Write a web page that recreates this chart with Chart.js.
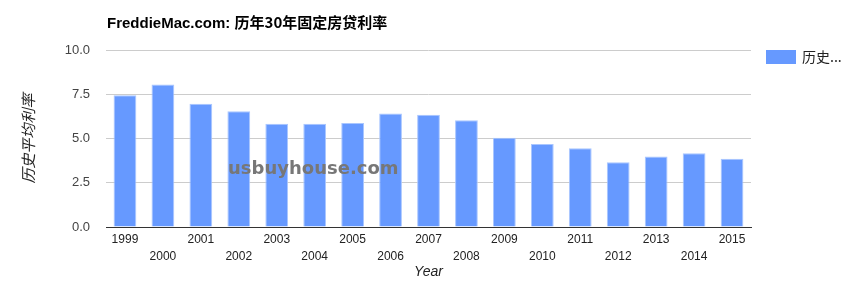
<!DOCTYPE html>
<html>
<head>
<meta charset="utf-8">
<script src="https://cdn.jsdelivr.net/npm/chart.js@4"></script>
<style>
  html, body { margin: 0; padding: 0; background: #fff; }
  #wrap { position: relative; width: 854px; height: 284px; }
</style>
</head>
<body>
<div id="wrap"><canvas id="rateChart" width="854" height="284"></canvas></div>
<script>
const years = ["1999", "2000", "2001", "2002", "2003", "2004", "2005", "2006", "2007",
               "2008", "2009", "2010", "2011", "2012", "2013", "2014", "2015"];
const avgRates = [7.44, 8.05, 6.97, 6.54, 5.83, 5.84, 5.87, 6.41, 6.34,
                  6.03, 5.04, 4.69, 4.45, 3.66, 3.98, 4.17, 3.85];
const yTicks = [0, 2.5, 5, 7.5, 10];
const seriesName = "历史平均利率";
const legendText = "历史...";
const titleLatin = "FreddieMac.com: ";
const titleCjk = "历年30年固定房贷利率";
const watermark = "usbuyhouse.com";

const FONT = "Arial, 'Liberation Sans', sans-serif";
const CJK = "'Noto Sans CJK SC', sans-serif";
const BAR = "#6699ff";

// title, legend and watermark drawn on top of the chart
const extras = {
    id: "extras",
    afterDatasetsDraw(chart) {
        const ctx = chart.ctx;
        ctx.save();
        ctx.font = "bold 18px 'DejaVu Sans', sans-serif";
        ctx.fillStyle = "#777";
        ctx.textBaseline = "middle";
        ctx.fillText(watermark, 228, 169);
        ctx.restore();
    },
    afterDraw(chart) {
        const ctx = chart.ctx;
        const area = chart.chartArea;
        ctx.save();
        // title
        ctx.fillStyle = "#000";
        ctx.textBaseline = "alphabetic";
        ctx.font = "bold 15px " + FONT;
        ctx.fillText(titleLatin, area.left + 1, 28);
        const w = ctx.measureText(titleLatin).width;
        ctx.font = "bold 15px " + CJK;
        ctx.fillText(titleCjk, area.left + 1 + w, 28);
        // legend
        const x = area.right + 15, y = area.top;
        ctx.fillStyle = BAR;
        ctx.fillRect(x, y, 30, 14);
        ctx.font = "14px " + CJK;
        ctx.fillStyle = "#222";
        ctx.textBaseline = "middle";
        ctx.fillText(legendText, x + 36, y + 7);
        ctx.restore();
    }
};

new Chart(document.getElementById("rateChart"), {
    type: "bar",
    data: {
        labels: years,
        datasets: [{
            label: seriesName,
            data: avgRates,
            backgroundColor: BAR,
            borderColor: "#a9c6ff",
            borderWidth: 1,
            barPercentage: 0.6,
            categoryPercentage: 1.0
        }]
    },
    options: {
        responsive: false,
        animation: false,
        layout: { padding: { left: 0, right: 103, top: 50, bottom: 0 } },
        plugins: {
            legend: { display: false },
            tooltip: { enabled: false },
            title: { display: false }
        },
        scales: {
            x: {
                grid: { display: false, drawTicks: false },
                border: { display: true, color: "#333", width: 1 },
                ticks: {
                    autoSkip: false,
                    maxRotation: 0,
                    minRotation: 0,
                    padding: 4,
                    color: "#222",
                    font: { family: FONT, size: 12, lineHeight: 1.4 },
                    callback: (v, i) => i % 2 ? ["", years[i]] : [years[i]]
                },
                title: {
                    display: true,
                    text: "Year",
                    color: "#222",
                    font: { family: FONT, size: 14, style: "italic", lineHeight: 1.2 },
                    padding: { top: 0, bottom: 3 }
                },
                afterFit: s => { s.height = 57; }
            },
            y: {
                min: 0,
                max: 10,
                afterBuildTicks: s => { s.ticks = yTicks.map(v => ({ value: v })); },
                grid: { color: "#cccccc", drawTicks: false },
                border: { display: false },
                ticks: {
                    padding: 16,
                    color: "#444",
                    font: { family: FONT, size: 13 },
                    callback: v => v.toFixed(1)
                },
                title: {
                    display: true,
                    text: seriesName,
                    color: "#222",
                    font: { family: CJK, size: 15, style: "italic", lineHeight: 1.2 },
                    padding: { top: 19, bottom: 0 }
                },
                afterFit: s => { s.width = 106; }
            }
        }
    },
    plugins: [extras]
});
</script>
</body>
</html>
